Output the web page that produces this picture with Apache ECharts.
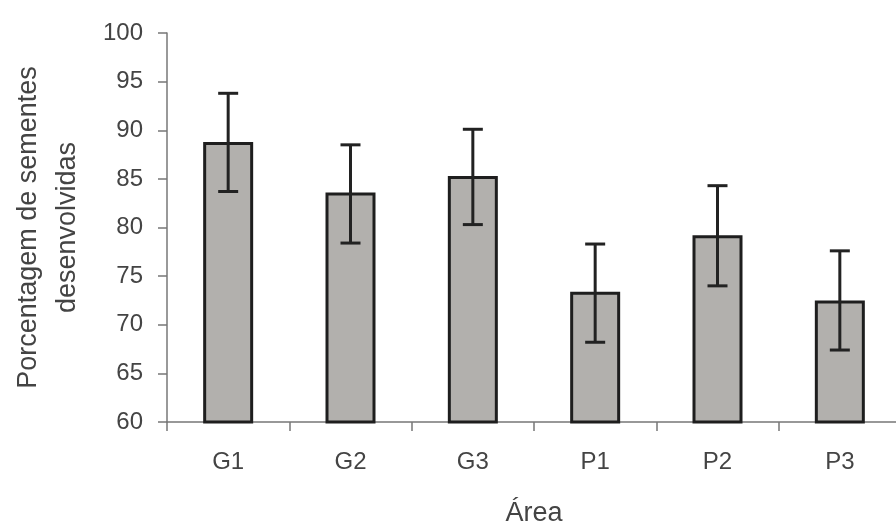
<!DOCTYPE html>
<html>
<head>
<meta charset="utf-8">
<script src="https://cdn.jsdelivr.net/npm/echarts@6/dist/echarts.min.js"></script>
<style>html,body{margin:0;padding:0;background:#fff;}#c{width:896px;height:526px;}</style>
</head>
<body>
<div id="c"></div>
<script>
const categories = ['G1', 'G2', 'G3', 'P1', 'P2', 'P3'];
const means = [88.8, 83.6, 85.3, 73.4, 79.2, 72.5];
const errLow = [83.7, 78.4, 80.3, 68.2, 74.0, 67.4];
const errHigh = [93.8, 88.5, 90.1, 78.3, 84.3, 77.6];
const yTicks = [60, 65, 70, 75, 80, 85, 90, 95, 100];

const chart = echarts.init(document.getElementById('c'), null, {renderer: 'canvas'});
const font = '"Liberation Sans", Arial, sans-serif';
const errData = categories.map((c, i) => [i, errLow[i], errHigh[i]]);

chart.setOption({
  animation: false,
  backgroundColor: '#fff',
  grid: {left: 167, top: 33, bottom: 104, right: -5, containLabel: false, outerBoundsMode: 'none'},
  xAxis: {
    type: 'category',
    data: categories,
    name: 'Área',
    nameLocation: 'middle',
    nameGap: 78,
    nameTextStyle: {fontFamily: font, fontSize: 27, color: '#444'},
    axisLine: {lineStyle: {color: '#777', width: 1.5}},
    axisTick: {show: true, length: 9, inside: false, lineStyle: {color: '#777', width: 1.5}},
    axisLabel: {fontFamily: font, fontSize: 24, color: '#444', margin: 28}
  },
  yAxis: {
    type: 'value',
    min: yTicks[0],
    max: yTicks[yTicks.length - 1],
    interval: 5,
    name: 'Porcentagem de sementes\ndesenvolvidas',
    nameLocation: 'middle',
    nameRotate: 90,
    nameGap: 80,
    nameTextStyle: {fontFamily: font, fontSize: 27, color: '#444', lineHeight: 39},
    splitLine: {show: false},
    axisLine: {show: true, lineStyle: {color: '#777', width: 1.5}},
    axisTick: {show: true, length: 9, lineStyle: {color: '#777', width: 1.5}},
    axisLabel: {fontFamily: font, fontSize: 24, color: '#444', margin: 24}
  },
  series: [
    {
      type: 'bar',
      data: means,
      barWidth: 50,
      itemStyle: {color: '#b2b0ad', borderColor: '#1e1e1e', borderWidth: 3}
    },
    {
      type: 'custom',
      data: errData,
      z: 10,
      renderItem: function (params, api) {
        const x = api.value(0);
        const lo = api.coord([x, api.value(1)]);
        const hi = api.coord([x, api.value(2)]);
        const hw = 10;
        const style = {stroke: '#222', lineWidth: 3};
        return {
          type: 'group',
          children: [
            {type: 'line', shape: {x1: lo[0], y1: lo[1], x2: hi[0], y2: hi[1]}, style: style},
            {type: 'line', shape: {x1: lo[0] - hw, y1: lo[1], x2: lo[0] + hw, y2: lo[1]}, style: style},
            {type: 'line', shape: {x1: hi[0] - hw, y1: hi[1], x2: hi[0] + hw, y2: hi[1]}, style: style}
          ]
        };
      }
    }
  ]
});
</script>
</body>
</html>
